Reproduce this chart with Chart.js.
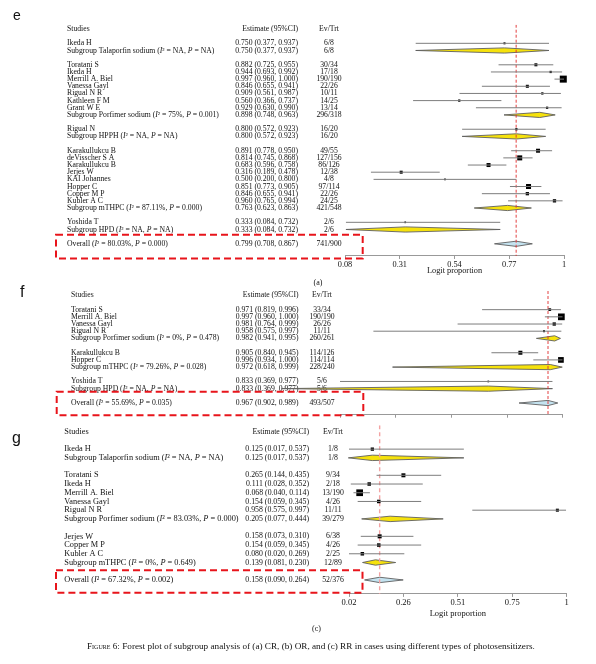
<!DOCTYPE html>
<html>
<head>
<meta charset="utf-8">
<title>Forest plots by photosensitizer</title>
<script src="https://cdn.jsdelivr.net/npm/chart.js@4.4.1/dist/chart.umd.min.js"></script>
<style>
  body { margin: 0; background: #fff; }
  #page { position: relative; width: 596px; height: 664px; overflow: hidden; font-family: "Liberation Serif", serif; color: #111; }
  .panel { position: absolute; left: 0; width: 596px; }
  .tag { position: absolute; font-family: "Liberation Sans", Arial, sans-serif; line-height: 1; color: #111; }
  .part { position: absolute; font-size: 8px; line-height: 1; transform: translate(-50%, -50%); }
  #caption { position: absolute; left: 87px; top: 642px; font-size: 9.2px; line-height: 1; white-space: nowrap; }
  #caption span { font-variant: small-caps; }
</style>
</head>
<body>
<div id="page">
  <div class="panel" style="top:0px;height:290px"><canvas id="chartCR"></canvas></div>
  <div class="panel" style="top:286px;height:134px"><canvas id="chartOR"></canvas></div>
  <div class="panel" style="top:420px;height:220px"><canvas id="chartRR"></canvas></div>
  <div class="tag" style="left:13px;top:7.6px;font-size:14px">e</div>
  <div class="tag" style="left:20px;top:283.5px;font-size:16px">f</div>
  <div class="tag" style="left:12px;top:429.5px;font-size:16px">g</div>
  <div class="part" style="left:318px;top:282.7px">(a)</div>
  <div class="part" style="left:316.5px;top:629px">(c)</div>
  <div id="caption"><span>Figure 6:</span> Forest plot of subgroup analysis of (a) CR, (b) OR, and (c) RR in cases using different types of photosensitizers.</div>
</div>
<script>
// ---- (a) CR ----
const crGroups = ["Talaporfin sodium", "Porfimer sodium", "HPPH", "mTHPC", "HPD"]
const crGroupI2 = ["NA", "75%", "NA", "87.11%", "NA"]
const crGroupP = ["NA", "0.001", "NA", "0.000", "NA"]
const crGroupEst = [0.750, 0.898, 0.800, 0.763, 0.333]
const crGroupLo = [0.377, 0.748, 0.572, 0.623, 0.084]
const crGroupHi = [0.937, 0.963, 0.923, 0.863, 0.732]
const crGroupEv = ["6/8", "296/318", "16/20", "421/548", "2/6"]
const crStudies = ["Ikeda H", "Toratani S", "Ikeda H", "Merrill A. Biel", "Vanessa Gayl", "Rigual N R", "Kathleen F M", "Grant W E", "Rigual N", "Karakullukcu B", "deVisscher S A", "Karakullukcu B", "Jerjes W", "KAI Johannes", "Hopper C", "Copper M P", "Kubler A C", "Yoshida T"]
const crStudyGroup = [0, 1, 1, 1, 1, 1, 1, 1, 2, 3, 3, 3, 3, 3, 3, 3, 3, 4]
const crEst = [0.750, 0.882, 0.944, 0.997, 0.846, 0.909, 0.560, 0.929, 0.800, 0.891, 0.814, 0.683, 0.316, 0.500, 0.851, 0.846, 0.960, 0.333]
const crLo = [0.377, 0.725, 0.693, 0.960, 0.655, 0.561, 0.366, 0.630, 0.572, 0.778, 0.745, 0.596, 0.189, 0.200, 0.773, 0.655, 0.765, 0.084]
const crHi = [0.937, 0.955, 0.992, 1.000, 0.941, 0.987, 0.737, 0.990, 0.923, 0.950, 0.868, 0.758, 0.478, 0.800, 0.905, 0.941, 0.994, 0.732]
const crEv = ["6/8", "30/34", "17/18", "190/190", "22/26", "10/11", "14/25", "13/14", "16/20", "49/55", "127/156", "86/126", "12/38", "4/8", "97/114", "22/26", "24/25", "2/6"]
const crWeight = [1.9, 4.2, 2.4, 22.7, 4.2, 2.4, 2.4, 2.4, 2.4, 7.4, 11.6, 7.4, 4.2, 1.3, 11.6, 5.0, 5.0, 1.3]
const crOverall = [0.799, 0.708, 0.867]
const crOverallStats = ["80.03%", "0.000", "741/900"]
const crRange = [0.08, 1]
const crTicks = ["0.08", "0.31", "0.54", "0.77", "1"]

// ---- (b) OR ----
const orGroups = ["Porfimer sodium", "mTHPC", "HPD"]
const orGroupI2 = ["0%", "79.26%", "NA"]
const orGroupP = ["0.478", "0.028", "NA"]
const orGroupEst = [0.982, 0.972, 0.833]
const orGroupLo = [0.941, 0.618, 0.369]
const orGroupHi = [0.995, 0.999, 0.977]
const orGroupEv = ["260/261", "228/240", "5/6"]
const orStudies = ["Toratani S", "Merrill A. Biel", "Vanessa Gayl", "Rigual N R", "Karakullukcu B", "Hopper C", "Yoshida T"]
const orStudyGroup = [0, 0, 0, 0, 1, 1, 2]
const orEst = [0.971, 0.997, 0.981, 0.958, 0.905, 0.996, 0.833]
const orLo = [0.819, 0.960, 0.764, 0.575, 0.840, 0.934, 0.369]
const orHi = [0.996, 1.000, 0.999, 0.997, 0.945, 1.000, 0.977]
const orEv = ["33/34", "190/190", "26/26", "11/11", "114/126", "114/114", "5/6"]
const orWeight = [3.4, 20.8, 5.0, 1.9, 7.4, 15.0, 1.3]
const orOverall = [0.967, 0.902, 0.989]
const orOverallStats = ["55.69%", "0.035", "493/507"]
const orRange = [0.5, 1]
const orTicks = ["", "", "", "", ""]

// ---- (c) RR ----
const rrGroups = ["Talaporfin sodium", "Porfimer sodium", "mTHPC"]
const rrGroupI2 = ["NA", "83.03%", "0%"]
const rrGroupP = ["NA", "0.000", "0.649"]
const rrGroupEst = [0.125, 0.205, 0.139]
const rrGroupLo = [0.017, 0.077, 0.081]
const rrGroupHi = [0.537, 0.444, 0.230]
const rrGroupEv = ["1/8", "39/279", "12/89"]
const rrStudies = ["Ikeda H", "Toratani S", "Ikeda H", "Merrill A. Biel", "Vanessa Gayl", "Rigual N R", "Jerjes W", "Copper M P", "Kubler A C"]
const rrStudyGroup = [0, 1, 1, 1, 1, 1, 2, 2, 2]
const rrEst = [0.125, 0.265, 0.111, 0.068, 0.154, 0.958, 0.158, 0.154, 0.080]
const rrLo = [0.017, 0.144, 0.028, 0.040, 0.059, 0.575, 0.073, 0.059, 0.020]
const rrHi = [0.537, 0.435, 0.352, 0.114, 0.345, 0.997, 0.310, 0.345, 0.269]
const rrEv = ["1/8", "9/34", "2/18", "13/190", "4/26", "11/11", "6/38", "4/26", "2/25"]
const rrWeight = [5.0, 7.4, 5.7, 20.8, 5.7, 4.2, 7.4, 5.7, 5.7]
const rrOverall = [0.158, 0.090, 0.264]
const rrOverallStats = ["67.32%", "0.002", "52/376"]
const rrRange = [0.02, 1]
const rrTicks = ["0.02", "0.26", "0.51", "0.75", "1"]

const serif = '"Liberation Serif", "Times New Roman", serif'
const ink = "#111"
Chart.defaults.font.family = serif
Chart.defaults.color = ink

// panel geometry, page pixels
const geoCR = {
  top: 0, height: 290, row0: 29, step: 7.16, yMin: -0.6, axisRow: 31.7,
  plotLeft: 345, plotRight: 564, nameX: 67, estX: 298, evX: 329,
  nameSize: 7.7, estSize: 7.7, tickSize: 8.3, titleGap: 14.2, diamondH: 2.6,
  box: [56, 362.7, -9, 14.6], refColor: "#e02a2a", refWidth: 0.9, refDash: [3, 2],
}
const geoOR = {
  top: 286, height: 134, row0: 295.3, step: 7.18, yMin: -0.6, axisRow: 16.63,
  plotLeft: 340, plotRight: 562.7, nameX: 71, estX: 298.5, evX: 322,
  nameSize: 7.7, estSize: 7.7, tickSize: 8.3, titleGap: 0, diamondH: 2.6,
  box: [56.7, 363.3, -11.3, 12.3], refColor: "#e02a2a", refWidth: 0.9, refDash: [3, 2],
}
const geoRR = {
  top: 420, height: 220, row0: 431.7, step: 8.72, yMin: -0.75, axisRow: 18.6,
  plotLeft: 349, plotRight: 566.7, nameX: 64.3, estX: 309, evX: 333,
  nameSize: 8.3, estSize: 7.8, tickSize: 8.5, titleGap: 21.5, diamondH: 2.7,
  box: [56, 362.5, -9.7, 12.7], refColor: "#f3a3a3", refWidth: 1.4, refDash: [4, 3],
}

const statRuns = (prefix, i2, p) => [
  [prefix + " (", false], ["I", true], ["\u00b2 = " + i2 + ", ", false], ["P", true], [" = " + p + ")", false],
]

function buildRows(d) {
  const rows = []
  let r = 2
  d.groups.forEach((name, g) => {
    d.studyGroup.forEach((sg, s) => {
      if (sg !== g) return
      rows.push({ kind: "study", row: r++, runs: [[d.studies[s], false]], est: d.est[s], lo: d.lo[s], hi: d.hi[s], ev: d.ev[s], weight: d.weight[s] })
    })
    rows.push({ kind: "subgroup", row: r++, runs: statRuns("Subgroup " + name, d.groupI2[g], d.groupP[g]), est: d.groupEst[g], lo: d.groupLo[g], hi: d.groupHi[g], ev: d.groupEv[g] })
    r++
  })
  rows.push({ kind: "overall", row: r, runs: statRuns("Overall", d.overallStats[0], d.overallStats[1]), est: d.overall[0], lo: d.overall[1], hi: d.overall[2], ev: d.overallStats[2] })
  return rows
}

const fmt = v => v.toFixed(3)

function drawRuns(ctx, runs, x, y, size) {
  runs.forEach(([text, italic]) => {
    ctx.font = (italic ? "italic " : "") + size + "px " + serif
    ctx.fillText(text, x, y)
    x += ctx.measureText(text).width
  })
}

// table columns, drawn under the marks
const tablePlugin = (rows, geo) => ({
  id: "table",
  beforeDatasetsDraw(chart) {
    const ctx = chart.ctx
    const y = chart.scales.y
    ctx.save()
    ctx.fillStyle = ink
    ctx.textBaseline = "middle"
    const hy = y.getPixelForValue(0)
    ctx.textAlign = "left"
    drawRuns(ctx, [["Studies", false]], geo.nameX, hy, geo.nameSize)
    ctx.textAlign = "right"
    drawRuns(ctx, [["Estimate (95%CI)", false]], geo.estX, hy, geo.estSize)
    ctx.textAlign = "center"
    drawRuns(ctx, [["Ev/Trt", false]], geo.evX, hy, geo.estSize)
    rows.forEach(r => {
      const py = y.getPixelForValue(r.row)
      ctx.textAlign = "left"
      drawRuns(ctx, r.runs, geo.nameX, py, geo.nameSize)
      ctx.textAlign = "right"
      drawRuns(ctx, [[`${fmt(r.est)} (${fmt(r.lo)}, ${fmt(r.hi)})`, false]], geo.estX, py, geo.estSize)
      ctx.textAlign = "center"
      drawRuns(ctx, [[r.ev, false]], geo.evX, py, geo.estSize)
    })
    ctx.restore()
  },
})

// pooled estimates as diamonds
const diamondPlugin = (rows, geo) => ({
  id: "diamonds",
  beforeDatasetsDraw(chart) {
    const ctx = chart.ctx
    const { x, y } = chart.scales
    ctx.save()
    rows.filter(r => r.kind !== "study").forEach(r => {
      const py = y.getPixelForValue(r.row)
      const h = geo.diamondH
      ctx.beginPath()
      ctx.moveTo(x.getPixelForValue(r.lo), py)
      ctx.lineTo(x.getPixelForValue(r.est), py - h)
      ctx.lineTo(x.getPixelForValue(r.hi), py)
      ctx.lineTo(x.getPixelForValue(r.est), py + h)
      ctx.closePath()
      ctx.fillStyle = r.kind === "overall" ? "#c4e3f0" : "#f6e20c"
      ctx.fill()
      ctx.lineWidth = 0.9
      ctx.strokeStyle = "#5f5f5f"
      ctx.stroke()
    })
    ctx.restore()
  },
})

const boxPlugin = (overall, geo) => ({
  id: "overallBox",
  afterDraw(chart) {
    const ctx = chart.ctx
    const oy = chart.scales.y.getPixelForValue(overall.row)
    const [l, r, t, b] = geo.box
    ctx.save()
    ctx.strokeStyle = "#e8141b"
    ctx.lineWidth = 2
    ctx.setLineDash([7, 4])
    ctx.strokeRect(l, oy + t, r - l, b - t)
    ctx.restore()
  },
})

function drawForest(canvasId, d, geo) {
  const rows = buildRows(d)
  const studyRows = rows.filter(r => r.kind === "study")
  const overall = rows[rows.length - 1]
  const padTop = geo.row0 + geo.yMin * geo.step - geo.top
  const axisPx = geo.row0 + geo.axisRow * geo.step - geo.top
  const [xMin, xMax] = d.range

  const datasets = studyRows.map(r => ({
    data: [{ x: r.lo, y: r.row }, { x: r.hi, y: r.row }],
    showLine: true,
    borderColor: "#7d7d7d",
    borderWidth: 1,
    pointRadius: 0,
  }))
  datasets.push({
    data: studyRows.map(r => ({ x: r.est, y: r.row })),
    pointStyle: "rect",
    backgroundColor: "#000",
    borderWidth: 0,
    pointRadius: ctx => 1.04 * Math.sqrt(studyRows[ctx.dataIndex].weight),
    clip: false,
  })
  datasets.push({
    data: [{ x: overall.est, y: geo.yMin }, { x: overall.est, y: geo.axisRow }],
    showLine: true,
    borderColor: geo.refColor,
    borderWidth: geo.refWidth,
    borderDash: geo.refDash,
    pointRadius: 0,
  })

  new Chart(document.getElementById(canvasId), {
    type: "scatter",
    data: { datasets },
    options: {
      responsive: true,
      maintainAspectRatio: false,
      animation: false,
      events: [],
      layout: { padding: { top: padTop, left: geo.plotLeft, right: 596 - geo.plotRight, bottom: 0 } },
      plugins: { legend: { display: false }, tooltip: { enabled: false } },
      scales: {
        x: {
          type: "linear",
          min: xMin,
          max: xMax,
          afterBuildTicks: s => {
            s.ticks = d.ticks.map((_, i) => ({ value: xMin + i * (xMax - xMin) / (d.ticks.length - 1) }))
          },
          afterFit: s => { s.height = geo.height - axisPx },
          ticks: {
            display: d.ticks.some(t => t),
            callback: (v, i) => d.ticks[i],
            autoSkip: false,
            maxRotation: 0,
            padding: 1,
            font: { size: geo.tickSize },
            color: ink,
          },
          grid: { drawOnChartArea: false, tickLength: 3, color: "#999" },
          border: { color: "#999" },
          title: {
            display: !!d.title,
            text: d.title,
            font: { size: geo.tickSize },
            padding: { top: 0, bottom: geo.titleGap },
            color: ink,
          },
        },
        y: { type: "linear", display: false, reverse: true, min: geo.yMin, max: geo.axisRow },
      },
    },
    plugins: [tablePlugin(rows, geo), diamondPlugin(rows, geo), boxPlugin(overall, geo)],
  })
}

drawForest("chartCR", {
  groups: crGroups, groupI2: crGroupI2, groupP: crGroupP, groupEst: crGroupEst, groupLo: crGroupLo, groupHi: crGroupHi, groupEv: crGroupEv,
  studies: crStudies, studyGroup: crStudyGroup, est: crEst, lo: crLo, hi: crHi, ev: crEv, weight: crWeight,
  overall: crOverall, overallStats: crOverallStats, range: crRange, ticks: crTicks, title: "Logit proportion",
}, geoCR)

drawForest("chartOR", {
  groups: orGroups, groupI2: orGroupI2, groupP: orGroupP, groupEst: orGroupEst, groupLo: orGroupLo, groupHi: orGroupHi, groupEv: orGroupEv,
  studies: orStudies, studyGroup: orStudyGroup, est: orEst, lo: orLo, hi: orHi, ev: orEv, weight: orWeight,
  overall: orOverall, overallStats: orOverallStats, range: orRange, ticks: orTicks, title: "",
}, geoOR)

drawForest("chartRR", {
  groups: rrGroups, groupI2: rrGroupI2, groupP: rrGroupP, groupEst: rrGroupEst, groupLo: rrGroupLo, groupHi: rrGroupHi, groupEv: rrGroupEv,
  studies: rrStudies, studyGroup: rrStudyGroup, est: rrEst, lo: rrLo, hi: rrHi, ev: rrEv, weight: rrWeight,
  overall: rrOverall, overallStats: rrOverallStats, range: rrRange, ticks: rrTicks, title: "Logit proportion",
}, geoRR)
</script>
</body>
</html>
